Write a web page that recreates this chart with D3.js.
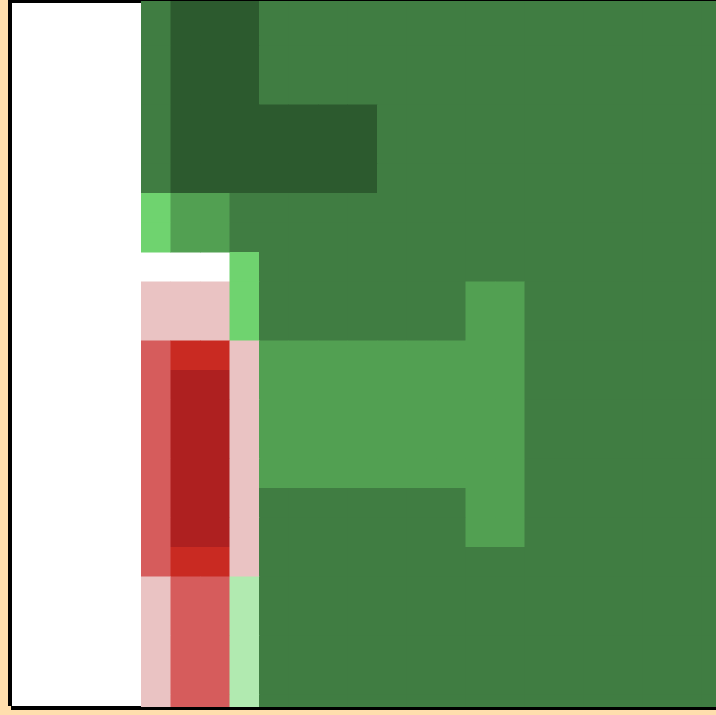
<!DOCTYPE html>
<html>
<head>
<meta charset="utf-8">
<script src="https://cdn.jsdelivr.net/npm/d3@7"></script>
<style>
html,body{margin:0;padding:0;background:#FFDEAD;}
svg{display:block;}
</style>
</head>
<body>
<svg id="chart" width="716" height="715"></svg>
<script>
// Level codes: A=-4 (dark red) ... D=+5 (dark green), "." = empty
const levelCodes  = ["A", "B", "C", "P", "V", "L", "M", "G", "D"];
const levelValues = [-4, -3, -2, -1, 1, 2, 3, 4, 5];
const levelColors = ["#ae2020", "#c92a22", "#d65c5c", "#eac3c3", "#b1eab0", "#6fd36f", "#52a052", "#407d42", "#2c5a2e"];

// columns 0..19, rows 0..24 (cells visible in the frame)
const columns = d3.range(20);
const rowsData = [
  "GDDDGGGGGGGGGGGGGGGG",
  "GDDDGGGGGGGGGGGGGGGG",
  "GDDDGGGGGGGGGGGGGGGG",
  "GDDDGGGGGGGGGGGGGGGG",
  "GDDDDDDDGGGGGGGGGGGG",
  "GDDDDDDDGGGGGGGGGGGG",
  "GDDDDDDDGGGGGGGGGGGG",
  "LMMGGGGGGGGGGGGGGGGG",
  "LMMGGGGGGGGGGGGGGGGG",
  "...LGGGGGGGGGGGGGGGG",
  "PPPLGGGGGGGMMGGGGGGG",
  "PPPLGGGGGGGMMGGGGGGG",
  "CBBPMMMMMMMMMGGGGGGG",
  "CAAPMMMMMMMMMGGGGGGG",
  "CAAPMMMMMMMMMGGGGGGG",
  "CAAPMMMMMMMMMGGGGGGG",
  "CAAPMMMMMMMMMGGGGGGG",
  "CAAPGGGGGGGMMGGGGGGG",
  "CAAPGGGGGGGMMGGGGGGG",
  "CBBPGGGGGGGGGGGGGGGG",
  "PCCVGGGGGGGGGGGGGGGG",
  "PCCVGGGGGGGGGGGGGGGG",
  "PCCVGGGGGGGGGGGGGGGG",
  "PCCVGGGGGGGGGGGGGGGG",
  "PCCVGGGGGGGGGGGGGGGG"
];

const svg = d3.select("#chart");
const W = 716, H = 715;

svg.append("rect").attr("width", W).attr("height", H).attr("fill", "#FFDEAD");
svg.append("rect").attr("x", 12).attr("y", 3).attr("width", W - 12).attr("height", 704).attr("fill", "#ffffff");

// frame lines
svg.append("rect").attr("x", 8).attr("y", 0).attr("width", 4).attr("height", 706).attr("fill", "#000");
svg.append("rect").attr("x", 8).attr("y", 0).attr("width", W - 8).attr("height", 3).attr("fill", "#000");
svg.append("rect").attr("x", 11).attr("y", 706).attr("width", W - 11).attr("height", 4).attr("fill", "#000");

const cellH = 29.5;
const x = d3.scaleBand().domain(columns).range([141, 141 + columns.length * cellH]);
const y = d3.scaleBand().domain(d3.range(rowsData.length)).range([-13.5, -13.5 + rowsData.length * cellH]);
const valueOf = d3.scaleOrdinal().domain(levelCodes).range(levelValues);
const color = d3.scaleOrdinal().domain(levelValues).range(levelColors);

svg.append("clipPath").attr("id", "clip")
  .append("rect").attr("x", 12).attr("y", 1).attr("width", W - 12).attr("height", 706);

const cells = [];
rowsData.forEach((row, r) => {
  row.split("").forEach((ch, c) => {
    if (ch !== ".") cells.push({ r, c, v: valueOf(ch) });
  });
});

svg.append("g").attr("clip-path", "url(#clip)")
  .selectAll("rect").data(cells).join("rect")
  .attr("x", d => x(d.c))
  .attr("y", d => y(d.r))
  .attr("width", x.bandwidth() + 0.5)
  .attr("height", y.bandwidth() + 0.5)
  .attr("fill", d => color(d.v));
</script>
</body>
</html>
